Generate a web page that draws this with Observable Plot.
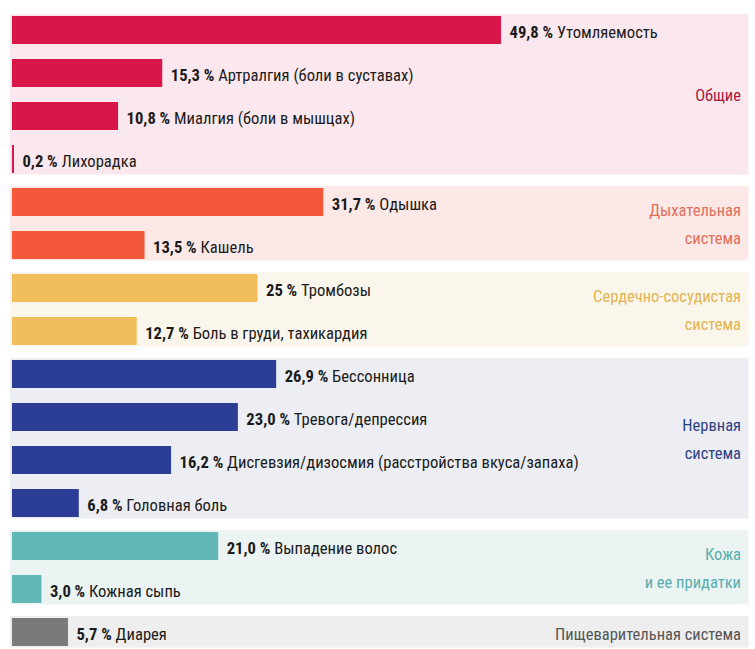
<!DOCTYPE html>
<html><head><meta charset="utf-8">
<script src="https://cdn.jsdelivr.net/npm/d3@7"></script>
<script src="https://cdn.jsdelivr.net/npm/@observablehq/plot@0.6"></script>
<style>
body{margin:0;background:#ffffff;}
#chart svg{display:block;}
</style>
</head><body><div id="chart"></div>
<script>
// ---- data ----
const symptoms = [
  "Утомляемость", "Артралгия (боли в суставах)", "Миалгия (боли в мышцах)", "Лихорадка",
  "Одышка", "Кашель",
  "Тромбозы", "Боль в груди, тахикардия",
  "Бессонница", "Тревога/депрессия", "Дисгевзия/дизосмия (расстройства вкуса/запаха)", "Головная боль",
  "Выпадение волос", "Кожная сыпь",
  "Диарея"
];
const values = [49.8, 15.3, 10.8, 0.2, 31.7, 13.5, 25, 12.7, 26.9, 23.0, 16.2, 6.8, 21.0, 3.0, 5.7];
const valueLabels = ["49,8", "15,3", "10,8", "0,2", "31,7", "13,5", "25", "12,7", "26,9", "23,0", "16,2", "6,8", "21,0", "3,0", "5,7"];
const groupOf = [0, 0, 0, 0, 1, 1, 2, 2, 3, 3, 3, 3, 4, 4, 5];
const groupNames = ["Общие", "Дыхательная\nсистема", "Сердечно-сосудистая\nсистема", "Нервная\nсистема", "Кожа\nи ее придатки", "Пищеварительная система"];
const barColors = ["#d8164a", "#f3583a", "#f2bd5c", "#2c3d96", "#62b7b7", "#7a7a7a"];
const bgColors = ["#fbe8ee", "#fce9e7", "#fbf6ec", "#eceef4", "#ebf3f3", "#eeeeee"];
const labelColors = ["#a8173f", "#e0705c", "#e3b451", "#2e4283", "#58aeae", "#555555"];

// ---- table ----
const rows = symptoms.map((name, i) => ({
  name, value: values[i], label: valueLabels[i], g: groupOf[i],
  first: i === 0 || groupOf[i - 1] !== groupOf[i],
  last: i === symptoms.length - 1 || groupOf[i + 1] !== groupOf[i]
}));

const groups = groupNames.map((gname, g) => {
  const idx = rows.map((r, i) => i).filter(i => groupOf[i] === g);
  const n = idx.length;
  const anchor = n === 1 ? idx[0] : idx[n / 2 - 1];
  return { gname, g, anchorName: symptoms[anchor], n };
});

const yRange = [5.5, 657.5];
const step = (yRange[1] - yRange[0]) / symptoms.length;
const pad = 0.34;
const halfGap = step * pad / 2;
const font = "'Liberation Sans Narrow', 'Roboto Condensed', 'DejaVu Sans Condensed', sans-serif";

const bgMarks = [];
for (const f of [true, false]) for (const l of [true, false]) {
  bgMarks.push(Plot.barX(rows.filter(r => r.first === f && r.last === l), {
    x1: 0, x2: 75, y: "name",
    fill: d => bgColors[d.g],
    insetLeft: -2, insetRight: 0,
    insetTop: f ? -2 : -halfGap - 0.5,
    insetBottom: l ? -1.5 : -halfGap - 0.5
  }));
}

const groupMarks = groups.map(gr => Plot.text([gr], {
  x: 75, y: "anchorName", text: "gname",
  textAnchor: "end", lineAnchor: "middle", lineHeight: 1.7,
  dx: -8, dy: (gr.n === 1 ? 0 : step / 2) - (gr.n === 1 ? 1 : 3),
  fill: labelColors[gr.g], fontSize: 16.5, fontFamily: font
}));

const chart = Plot.plot({
  width: 755, height: 649,
  margin: 0,
  style: { fontFamily: font, background: "#ffffff" },
  x: { domain: [0, 75], range: [12, 12 + 75 * 9.82], axis: null },
  y: { domain: symptoms, range: yRange, paddingInner: pad, paddingOuter: pad / 2, axis: null },
  color: { type: "identity" },
  marks: [
    ...bgMarks,
    Plot.barX(rows, { x1: 0, x2: "value", y: "name", fill: d => barColors[d.g] }),
    Plot.text(rows, {
      x: "value", y: "name", text: d => `${d.label} %|${d.name}`,
      textAnchor: "start", dx: 8, dy: 2, fill: "#1b1b1b", fontSize: 16.6,
      fontFamily: font
    }),
    ...groupMarks
  ]
});

// bold value part, regular symptom name
const ns = "http://www.w3.org/2000/svg";
chart.querySelectorAll("text").forEach(t => {
  if (!t.textContent.includes("|")) return;
  const [v, n] = t.textContent.split("|");
  t.textContent = "";
  const a = document.createElementNS(ns, "tspan");
  a.setAttribute("font-weight", "bold");
  a.textContent = v;
  const b = document.createElementNS(ns, "tspan");
  b.textContent = "\u00A0" + n;
  t.appendChild(a); t.appendChild(b);
});

document.getElementById("chart").appendChild(chart);
</script>
</body></html>
